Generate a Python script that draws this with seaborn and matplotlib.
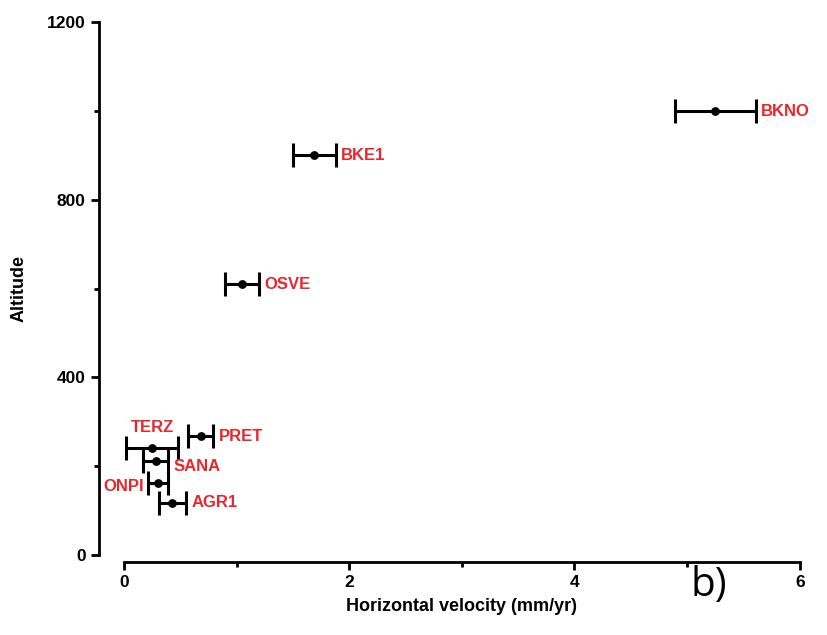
import matplotlib
matplotlib.use("Agg")
from matplotlib import pyplot as plt
from matplotlib.ticker import MultipleLocator
import seaborn as sns
import pandas as pd

# station data
stations = ["BKNO", "BKE1", "OSVE", "PRET", "TERZ", "SANA", "ONPI", "AGR1"]
velocity = [5.25, 1.69, 1.05, 0.68, 0.25, 0.28, 0.30, 0.43]
vel_err = [0.36, 0.19, 0.15, 0.11, 0.23, 0.11, 0.09, 0.12]
altitude = [1000, 900, 610, 268, 242, 212, 163, 118]

df = pd.DataFrame({"station": stations, "velocity": velocity,
                   "err": vel_err, "altitude": altitude})

# where each label sits relative to its point (style only)
label_pos = {"TERZ": "above", "ONPI": "left"}

sns.set_style("ticks")
plt.rcParams["font.family"] = ["Liberation Sans Narrow", "Liberation Sans", "DejaVu Sans"]
plt.rcParams["font.weight"] = "bold"
plt.rcParams["text.color"] = "black"
plt.rcParams["axes.labelcolor"] = "black"
plt.rcParams["xtick.color"] = "black"
plt.rcParams["ytick.color"] = "black"

fig = plt.figure(figsize=(8.27, 6.35), dpi=100)
ax = fig.add_axes([0.150, 0.126, 0.817, 0.839])

ax.errorbar(df.velocity, df.altitude, xerr=df.err, fmt="none",
            ecolor="black", elinewidth=2.2, capsize=8.5, capthick=2.2, zorder=2)
sns.scatterplot(data=df, x="velocity", y="altitude", color="black", s=40,
                edgecolor="black", linewidth=0, ax=ax, zorder=3)

red = "#e8262b"
for _, r in df.iterrows():
    pos = label_pos.get(r.station, "right")
    kw = dict(color=red, fontsize=12, fontweight="bold",
              family=["Liberation Sans", "DejaVu Sans"])
    if pos == "above":
        ax.annotate(r.station, (r.velocity, r.altitude), xytext=(0, 9),
                    textcoords="offset points", ha="center", va="bottom", **kw)
    elif pos == "left":
        ax.annotate(r.station, (r.velocity - r.err, r.altitude), xytext=(-3, -3),
                    textcoords="offset points", ha="right", va="center", **kw)
    else:
        dy = -4 if r.station == "SANA" else 0
        ax.annotate(r.station, (r.velocity + r.err, r.altitude), xytext=(4, dy),
                    textcoords="offset points", ha="left", va="center", **kw)

ax.set_xlim(0, 6)
ax.set_ylim(0, 1200)
ax.xaxis.set_major_locator(MultipleLocator(2))
ax.xaxis.set_minor_locator(MultipleLocator(1))
ax.yaxis.set_major_locator(MultipleLocator(400))
ax.yaxis.set_minor_locator(MultipleLocator(200))

sns.despine(ax=ax)
ax.spines["left"].set_position(("outward", 18))
ax.spines["bottom"].set_position(("outward", 5))
for s in ["left", "bottom"]:
    ax.spines[s].set_linewidth(2)
    ax.spines[s].set_color("black")
ax.tick_params(which="major", length=6, width=2, color="black",
               labelcolor="black", labelsize=12.5)
ax.tick_params(which="minor", length=3.5, width=2, color="black")

ax.set_xlabel("Horizontal velocity (mm/yr)", fontsize=13, fontweight="bold", labelpad=6)
ax.set_ylabel("Altitude", fontsize=13, fontweight="bold", labelpad=14)

fig.text(0.857, 0.078, "b)", fontsize=29, fontweight="normal",
         family=["Open Sans", "DejaVu Sans"], ha="center", va="center")

plt.savefig("out.png", dpi=100)
plt.close()
